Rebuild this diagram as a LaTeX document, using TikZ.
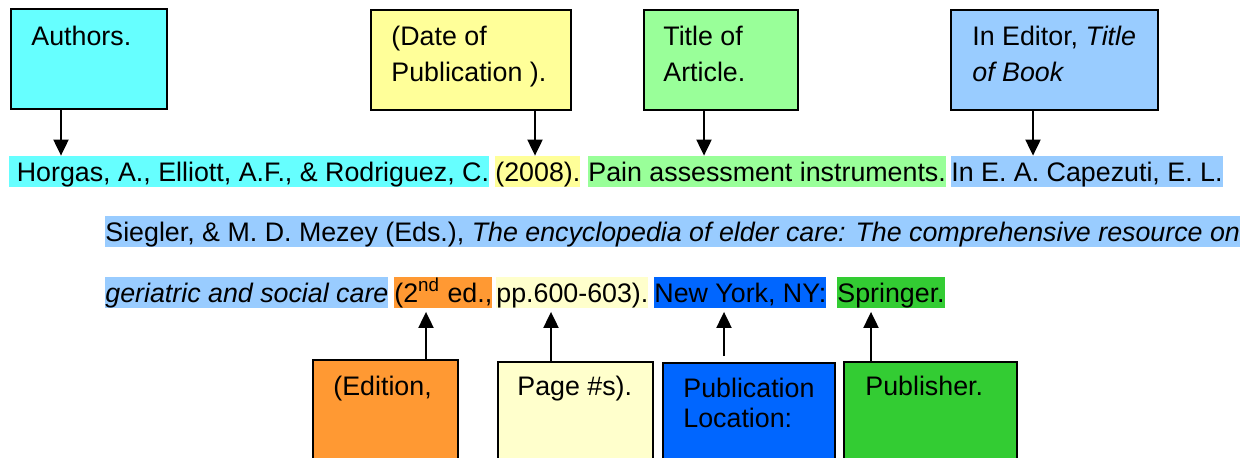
\documentclass[tikz,border=0pt]{standalone}
\usepackage{fontspec}
\setmainfont{Liberation Sans}
\usetikzlibrary{arrows.meta}
\definecolor{authorcyan}{HTML}{66FFFF}
\definecolor{dateyellow}{HTML}{FFFF99}
\definecolor{titlegreen}{HTML}{99FF99}
\definecolor{bookblue}{HTML}{99CCFF}
\definecolor{editionorange}{HTML}{FF9933}
\definecolor{pagecream}{HTML}{FFFFCC}
\definecolor{placeblue}{HTML}{0066FF}
\definecolor{pubgreen}{HTML}{33CC33}
\begin{document}
\begin{tikzpicture}[x=0.5pt, y=-0.5pt,
    box/.style={draw, line width=1pt, fill=#1, anchor=north west, inner sep=0pt},
    lbl/.style={anchor=base west, inner sep=0pt, align=left, font=\fontsize{13.4}{18}\selectfont},
    hl/.style={fill=#1, anchor=base west, inner sep=0pt, text height=12.5pt, text depth=2.75pt, font=\fontsize{13.4}{16}\selectfont},
    arrow/.style={-{Triangle[width=7.5pt, length=8pt]}, line width=1pt}
]
    \clip (0,0) rectangle (1240,457);

    % boxes on top
    \node[box=authorcyan, minimum width=78pt, minimum height=50pt] (authors) at (10,8) {};
    \node[box=dateyellow, minimum width=100pt, minimum height=50pt] (date) at (370,9) {};
    \node[box=titlegreen, minimum width=77pt, minimum height=50pt] (title) at (643,9) {};
    \node[box=bookblue, minimum width=103.5pt, minimum height=50pt] (editor) at (950,9) {};
    \node[lbl] (authorstxt) at (31,45) {Authors.};
    \node[lbl] (datetxt) at (391,81) {(Date of\\Publication ).};
    \node[lbl] (titletxt) at (663,81) {Title of\\Article.};
    \node[lbl] (editortxt) at (972,81) {In Editor, \textit{Title}\\\textit{of Book}};

    % the reference
    \node[hl=authorcyan] (hlauthors) at (9,181) {\ Horgas, A., Elliott, A.F., \& Rodriguez, C.};
    \node[hl=dateyellow] (hldate) at (495,181) {(2008).};
    \node[hl=titlegreen] (hltitle) at (588,181) {Pain assessment instruments.};
    \node[hl=bookblue] (hleditor) at (951,181) {In E. A. Capezuti, E. L.};
    \node[hl=bookblue] (hleditorb) at (105,241) {Siegler, \& M. D. Mezey (Eds.), \textit{The encyclopedia of elder care: The comprehensive resource on}};
    \node[hl=bookblue] (hlbook) at (105,302) {\textit{geriatric and social care}};
    \node[hl=editionorange] (hledition) at (394,302) {(2\textsuperscript{nd} ed.,};
    \node[hl=pagecream] (hlpages) at (496,302) {pp.600-603).};
    \node[hl=placeblue] (hllocation) at (654,302) {New York, NY:};
    \node[hl=pubgreen] (hlpublisher) at (837,302) {Springer.};

    % boxes below
    \node[box=editionorange, minimum width=72.5pt, minimum height=55pt] (edition) at (312,359) {};
    \node[box=pagecream, minimum width=77.5pt, minimum height=55pt] (pages) at (497,361) {};
    \node[box=placeblue, minimum width=86pt, minimum height=55pt] (location) at (662,362) {};
    \node[box=pubgreen, minimum width=86.5pt, minimum height=55pt] (publisher) at (843,361) {};
    \node[lbl] (editiontxt) at (333,395) {(Edition,};
    \node[lbl] (pagestxt) at (517,395) {Page \#s).};
    \node[lbl, font=\fontsize{13.4}{15}\selectfont] (locationtxt) at (683,427) {Publication\\Location:};
    \node[lbl] (publishertxt) at (865,395) {Publisher.};

    \coordinate (ax) at (61,0);
    \coordinate (dx) at (535,0);
    \coordinate (tx) at (704,0);
    \coordinate (ex) at (1033,0);
    \coordinate (edx) at (426,0);
    \coordinate (px) at (551,0);
    \coordinate (lx) at (724,0);
    \coordinate (pbx) at (871,0);

    \draw[arrow] (authors.south -| ax) -- (hlauthors.north -| ax);
    \draw[arrow] (date.south -| dx) -- (hldate.north -| dx);
    \draw[arrow] (title.south -| tx) -- (hltitle.north -| tx);
    \draw[arrow] (editor.south -| ex) -- (hleditor.north -| ex);
    \draw[arrow, shorten >=2pt] (edition.north -| edx) -- (hledition.south -| edx);
    \draw[arrow, shorten >=2pt] (pages.north -| px) -- (hlpages.south -| px);
    \draw[arrow, shorten >=2pt, shorten <=3pt] (location.north -| lx) -- (hllocation.south -| lx);
    \draw[arrow, shorten >=2pt] (publisher.north -| pbx) -- (hlpublisher.south -| pbx);
\end{tikzpicture}
\end{document}
